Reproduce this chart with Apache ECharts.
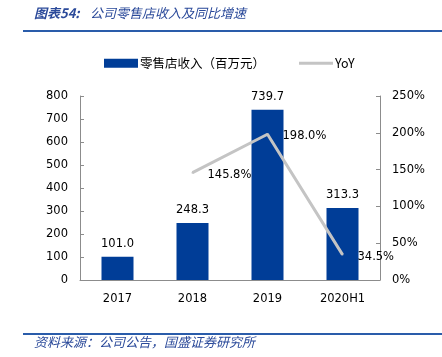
<!DOCTYPE html>
<html>
<head>
<meta charset="utf-8">
<script src="https://cdn.jsdelivr.net/npm/echarts@6/dist/echarts.min.js"></script>
<style>
html,body{margin:0;padding:0;background:#fff;}
#c{width:442px;height:357px;}
</style>
</head>
<body>
<div id="c"></div>
<script>
var categories = ['2017', '2018', '2019', '2020H1'];
var revenue = [101.0, 248.3, 739.7, 313.3];
var yoy = [null, 145.8, 198.0, 34.5];
var leftTicks = {min: 0, max: 800, interval: 100};
var rightTicks = {min: 0, max: 250, interval: 50};

var chart = echarts.init(document.getElementById('c'), null, {renderer: 'canvas'});
var axisFont = 'DejaVu Sans';
var cjk = '"Noto Sans CJK SC"';
chart.setOption({
  animation: false,
  backgroundColor: '#fff',
  grid: {left: 80, right: 62, top: 96, bottom: 77},
  legend: {
    top: 52,
    left: 99,
    itemWidth: 34,
    itemHeight: 9,
    itemGap: 34,
    textStyle: {fontFamily: cjk, fontSize: 12.5, color: '#000', padding: [0, 0, 0, -3]},
    data: [{name: '零售店收入（百万元）', icon: 'rect'}, {name: 'YoY', icon: 'path://M0,0H34V3H0Z'}]
  },
  xAxis: {
    type: 'category',
    data: categories,
    axisLine: {lineStyle: {color: '#8c8c8c', width: 1}},
    axisTick: {inside: true, length: 5, lineStyle: {color: '#8c8c8c'}},
    axisLabel: {color: '#000', fontFamily: axisFont, fontSize: 11.5, margin: 13}
  },
  yAxis: [{
    type: 'value',
    min: leftTicks.min, max: leftTicks.max, interval: leftTicks.interval,
    axisLine: {show: true, lineStyle: {color: '#8c8c8c'}},
    axisTick: {show: true, inside: true, length: 4, lineStyle: {color: '#8c8c8c'}},
    splitLine: {show: false},
    axisLabel: {color: '#000', fontFamily: axisFont, fontSize: 11.5, margin: 12}
  }, {
    type: 'value',
    position: 'right',
    min: rightTicks.min, max: rightTicks.max, interval: rightTicks.interval,
    axisLine: {show: true, lineStyle: {color: '#8c8c8c'}},
    axisTick: {show: true, inside: true, length: 4, lineStyle: {color: '#8c8c8c'}},
    splitLine: {show: false},
    axisLabel: {color: '#000', fontFamily: axisFont, fontSize: 11.5, margin: 12, formatter: '{value}%'}
  }],
  series: [{
    name: '零售店收入（百万元）',
    type: 'bar',
    data: revenue,
    barWidth: 32,
    itemStyle: {color: '#003D97'},
    label: {show: true, position: 'top', distance: 7, color: '#000', fontFamily: axisFont, fontSize: 11.5,
      formatter: function (p) { return p.value.toFixed(1); }}
  }, {
    name: 'YoY',
    type: 'line',
    yAxisIndex: 1,
    data: yoy,
    symbol: 'circle',
    symbolSize: 2,
    showSymbol: true,
    z: 5,
    lineStyle: {color: '#C4C4C4', width: 3},
    itemStyle: {color: '#C4C4C4'},
    label: {show: true, position: 'right', distance: 14, offset: [0, 2], color: '#000', fontFamily: axisFont, fontSize: 11.5,
      formatter: function (p) { return p.value.toFixed(1) + '%'; }}
  }],
  graphic: [
    {type: 'text', left: 34, top: 7, style: {text: '图表54:', fill: '#2B4A9A', font: 'italic bold 13px ' + cjk}},
    {type: 'text', left: 90, top: 7, style: {text: '公司零售店收入及同比增速', fill: '#2B4A9A', font: 'italic 13px ' + cjk}},
    {type: 'rect', shape: {x: 23, y: 30, width: 419, height: 2}, style: {fill: '#2A5CAA'}},
    {type: 'rect', shape: {x: 23, y: 333, width: 419, height: 2}, style: {fill: '#2A5CAA'}},
    {type: 'text', left: 34, top: 336, style: {text: '资料来源：公司公告，国盛证券研究所', fill: '#2B4A9A', font: 'italic 13px ' + cjk}}
  ]
});
</script>
</body>
</html>
